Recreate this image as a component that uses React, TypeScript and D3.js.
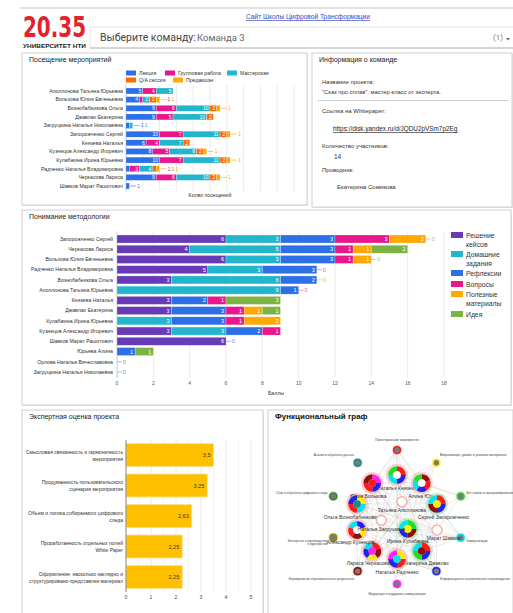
import React from 'react';
import * as d3 from 'd3';

const W = 513;
const H = 613;
const FONT = 'Liberation Sans, Arial, sans-serif';

// Посещение мероприятий
const attendNames = [
  'Аполлонова Татьяна Юрьевна', 'Вольхова Юлия Евгеньевна', 'Вознобабникова Ольга', 'Джавлах Екатерина',
  'Загруцкина Наталья Николаевна', 'Запорожченко Сергей', 'Князева Наталья', 'Кузнецов Александр Игоревич',
  'Кулабжина Ирина Юрьевна', 'Радченко Наталья Владимировна', 'Черкасова Лариса', 'Шавков Марат Рашитович',
];
const attendKinds = ['Лекция', 'Групповая работа', 'Мастерская', 'Q/A сессия', 'Предакшэн'];
const attendColors = ['#2d6fe6', '#e8178c', '#22b5cc', '#ff6a00', '#ffa800'];
const lectures = [5, 4, 9, 9, 1, 10, 6, 8, 10, 1, 9, 1];
const groupWork = [4, 1, 6, 5, 0, 7, 4, 5, 7, 3, 6, 0];
const workshops = [5, 2, 10, 10, 1, 11, 7, 8, 11, 4, 10, 0];
const qaSessions = [0, 2, 2, 2, 0, 2, 2, 2, 2, 1, 2, 0];
const production = [0, 1, 1, 0, 0, 1, 0, 1, 1, 1, 1, 0];

// Понимание методологии
const methNames = [
  'Запорожченко Сергей', 'Черкасова Лариса', 'Вольхова Юлия Евгеньевна', 'Радченко Наталья Владимировна',
  'Вознобабникова Ольга', 'Аполлонова Татьяна Юрьевна', 'Князева Наталья', 'Джавлах Екатерина',
  'Кулабжина Ирина Юрьевна', 'Кузнецов Александр Игоревич', 'Шавков Марат Рашитович', 'Юрьева Алина',
  'Орлова Наталья Вячеславовна', 'Загруцкина Наталья Николаевна',
];
const methKinds = ['Решение\nкейсов', 'Домашние\nзадания', 'Рефлексии', 'Вопросы', 'Полезные\nматериалы', 'Идея'];
const methColors = ['#673ab7', '#22b5cc', '#2d6fe6', '#e8178c', '#ffa800', '#7cb342'];
const caseSolving = [6, 4, 6, 5, 3, null, 3, 3, null, 3, 6, null, null, null];
const homework = [3, 5, 3, 3, 6, 9, 0, 0, 3, 3, null, 0, null, null];
const reflections = [3, 3, 3, 3, 2, 1, 2, 3, 3, 2, 0, 1, 0, 0];
const questions = [3, 1, 1, 0, null, 0, 1, 1, 1, 1, null, 0, null, null];
const materials = [2, 1, 1, null, null, null, null, 1, 2, null, null, null, null, null];
const ideas = [0, 2, 0, null, 0, null, 3, 1, null, null, null, 1, null, null];
const methTicks = [0, 2, 4, 6, 8, 10, 12, 14, 16, 18];

// Экспертная оценка проекта
const criteria = [
  'Смысловая связанность и гармоничность\nмероприятия',
  'Продуманность пользовательского\nсценария мероприятия',
  'Объем и логика собираемого цифрового\nследа',
  'Проработанность отдельных полей\nWhite Paper',
  'Оформление: насколько наглядно и\nструктурировано представлен материал',
];
const scores = [3.5, 3.25, 2.63, 2.25, 2.25];
const scoreTicks = [0, 1, 2, 3, 4, 5];

// Функциональный граф
const functionNames = [
  'Проектирование мероприятия', 'Визуализация, дизайн и упаковка материалов', 'Бот-сервис и программирование',
  'Коммуникации', 'Информационно-аналитическое сопровождение', 'Модерация и поддержка коммуникации',
  'Формирование образовательных результатов', 'Экспертное сопровождение\nи кураторство',
  'Сбор и обработка цифрового следа', 'Анализ и обработка данных',
];
const functionColors = ['#ff1a1a', '#ffee00', '#22dd22', '#00e5ee', '#2222ee', '#ff22ff', '#8b1010', '#8a8a10', '#228b22', '#178a8a'];
const ringPeople = [
  'Наталья Князева', 'Алина Юрьева', 'Сергей Запорожченко', 'Марат Шавков', 'Екатерина Джавлах',
  'Наталья Радченко', 'Лариса Черкасова', 'Александр Кузнецов', 'Ольга Вознобабникова', 'Юлия Волькова',
];
const innerPeople = ['Татьяна Аполлонова', 'Ирина Кулабжина', 'Наталья Загруцкина'];
const personRoles: Record<string, number[]> = {
  'Наталья Князева': [0, 4, 3, 2],
  'Алина Юрьева': [6, 0, 4, 3, 2],
  'Сергей Запорожченко': [0, 4, 6, 3],
  'Марат Шавков': [],
  'Екатерина Джавлах': [0, 4, 2, 3],
  'Наталья Радченко': [1, 0, 4, 5],
  'Лариса Черкасова': [0, 6, 1, 4, 3],
  'Александр Кузнецов': [4, 1, 6, 0, 3],
  'Ольга Вознобабникова': [1, 3, 0, 4],
  'Юлия Волькова': [5, 4, 0, 6],
  'Татьяна Аполлонова': [],
  'Ирина Кулабжина': [2, 6, 4, 3],
  'Наталья Загруцкина': [],
};
const personCore: Record<string, number> = {
  'Сергей Запорожченко': 1, 'Екатерина Джавлах': 6, 'Наталья Радченко': 3, 'Лариса Черкасова': 5,
  'Ольга Вознобабникова': 9, 'Юлия Волькова': 0, 'Ирина Кулабжина': 1,
};
const greenHalo = ['Сергей Запорожченко', 'Ирина Кулабжина', 'Екатерина Джавлах'];

function Panel({ x, y, w, h, title, bold }: { x: number; y: number; w: number; h: number; title: string; bold?: boolean }) {
  return (
    <g>
      <rect x={x + 1} y={y + 1} width={w} height={h} fill="#e6e6e6" />
      <rect x={x} y={y} width={w} height={h} fill="#fff" stroke="#cfcfcf" />
      <text x={x + 7} y={y + 9} fontSize={bold ? 8 : 7} fill={bold ? '#111' : '#222'} fontWeight={bold ? 'bold' : 'normal'}>
        {title}
      </text>
    </g>
  );
}

function Header() {
  return (
    <g>
      <line x1={20} x2={W} y1={8} y2={8} stroke="#e2e2e2" strokeWidth={2} />
      <text x={23} y={37} fontSize={29} fontWeight="bold" fill="#e42229" textLength={63} lengthAdjust="spacingAndGlyphs"
        fontFamily="DejaVu Sans Condensed, Liberation Sans Narrow, sans-serif">20.35</text>
      <text x={23} y={48} fontSize={5.6} fontWeight="bold" fill="#222" textLength={63} lengthAdjust="spacingAndGlyphs">УНИВЕРСИТЕТ НТИ</text>
      <text x={308} y={19} fontSize={6.6} fill="#3b44c8" textAnchor="middle" textDecoration="underline">Сайт Школы Цифровой Трансформации</text>
      <rect x={90} y={27} width={430} height={21} fill="#fff" stroke="#e4e4e4" />
      <line x1={90} x2={W} y1={48} y2={48} stroke="#bdbdbd" />
      <text x={100} y={41} fontSize={10.5} fill="#444" fontFamily="Roboto, sans-serif">Выберите команду:</text>
      <text x={197} y={41} fontSize={9.5} fill="#666" fontFamily="Roboto, sans-serif">Команда 3</text>
      <text x={493} y={40} fontSize={8} fill="#777" fontFamily="Roboto, sans-serif">(1)</text>
      <path d="M506,38 l4,0 l-2,2.5 z" fill="#666" />
    </g>
  );
}

function AttendChart() {
  const x = d3.scaleLinear().domain([0, 50]).range([126, 294]);
  const y = d3.scalePoint<string>().domain(attendNames).range([91, 186]);
  const cols = [lectures, groupWork, workshops, qaSessions, production];
  const rows = attendNames.map((n, i) => {
    const r: any = { name: n };
    cols.forEach((c, k) => (r['s' + k] = c[i]));
    return r;
  });
  const stacked = d3.stack<any>().keys(cols.map((_, k) => 's' + k))(rows);
  const bh = 6;
  return (
    <g fontSize={5.2}>
      {x.ticks(10).map((t) => (
        <line key={t} x1={x(t)} x2={x(t)} y1={85} y2={191} stroke={t === 0 ? '#bbb' : '#e6e6e6'} strokeWidth={0.8} />
      ))}
      {attendNames.map((n) => (
        <text key={n} x={123} y={(y(n) as number) + 1.8} textAnchor="end" fill="#333">{n}</text>
      ))}
      {stacked.map((layer, k) =>
        layer.map((d, i) => {
          const v = d[1] - d[0];
          if (v <= 0) return null;
          const cy = y(attendNames[i]) as number;
          const w = x(d[1]) - x(d[0]);
          return (
            <g key={k + '-' + i}>
              <rect x={x(d[0])} y={cy - bh / 2} width={w} height={bh} fill={attendColors[k]} stroke="#fff" strokeOpacity={0.6} strokeWidth={0.4} />
              {w >= 6 && (
                <text x={x(d[1]) - 1.5} y={cy + 1.8} textAnchor="end" fill="#fff" fontSize={5}>{v}</text>
              )}
            </g>
          );
        })
      )}
      {attendNames.map((n, i) => {
        const narrow = cols.map((c, k) => ({ v: c[i], k })).filter((s) => s.v > 0 && x(s.v) - x(0) < 6);
        if (!narrow.length) return null;
        const total = d3.sum(cols, (c) => c[i]);
        const x0 = x(total) + 1;
        const cy = y(n) as number;
        return (
          <g key={'o' + n}>
            <line x1={x0} x2={x0 + 6} y1={cy} y2={cy} stroke={attendColors[narrow[narrow.length - 1].k]} strokeWidth={0.6} />
            {narrow.map((s, j) => (
              <text key={j} x={x0 + 7 + j * 4} y={cy + 1.8} fill={attendColors[s.k]} fontSize={5}>{s.v}</text>
            ))}
          </g>
        );
      })}
      {attendKinds.map((k, i) => {
        const lx = [126, 165, 227, 126, 173][i];
        const ly = i < 3 ? 73 : 80;
        return (
          <g key={k}>
            <rect x={lx} y={ly - 2.5} width={10} height={5} fill={attendColors[i]} />
            <text x={lx + 13} y={ly + 1.8} fill="#333" fontSize={5.2}>{k}</text>
          </g>
        );
      })}
      <text x={210} y={197} textAnchor="middle" fill="#333" fontSize={5.2}>Колво посещений</text>
    </g>
  );
}

function InfoPanel() {
  return (
    <g fontSize={6} fill="#333">
      <text x={322} y={84}>Название проекта:</text>
      <text x={322} y={94} fontSize={5.8}>"Сказ про сплав": мастер-класс от эксперта.</text>
      <line x1={318} x2={508} y1={100.5} y2={100.5} stroke="#cfcfcf" />
      <text x={322} y={113}>Ссылка на Whitepaper:</text>
      <text x={333} y={131} fontSize={6.4} textDecoration="underline" fill="#222">https://disk.yandex.ru/d/JQDU2pVSm7p2Eg</text>
      <text x={322} y={148}>Количество участников:</text>
      <text x={334} y={159} fontSize={6.5}>14</text>
      <text x={322} y={172}>Проводник:</text>
      <text x={337} y={189}>Екатерина Сомикова</text>
    </g>
  );
}

function MethChart() {
  const x = d3.scaleLinear().domain([0, 18]).range([117, 444]);
  const y = d3.scalePoint<string>().domain(methNames).range([239, 372]);
  const cols = [caseSolving, homework, reflections, questions, materials, ideas];
  const bh = 8;
  const rowsOut: React.ReactNode[] = [];
  methNames.forEach((n, i) => {
    const cy = y(n) as number;
    let acc = 0;
    cols.forEach((c, k) => {
      const v = c[i];
      if (v === null) return;
      if (v === 0) {
        const x0 = x(acc);
        rowsOut.push(
          <g key={'z' + i + k} opacity={0.75}>
            <line x1={x0} x2={x0 + 5} y1={cy} y2={cy} stroke={methColors[k]} strokeWidth={0.6} />
            <text x={x0 + 5.8} y={cy + 2} fill={methColors[k]} fontSize={5.6}>0</text>
          </g>
        );
        return;
      }
      const x0 = x(acc);
      const x1 = x(acc + v);
      acc += v;
      rowsOut.push(
        <g key={'b' + i + k}>
          <rect x={x0} y={cy - bh / 2} width={x1 - x0} height={bh} fill={methColors[k]} stroke="#fff" strokeOpacity={0.5} strokeWidth={0.5} />
          <text x={x1 - 2} y={cy + 2} textAnchor="end" fill="#fff" fontSize={5.6}>{v}</text>
        </g>
      );
    });
  });
  return (
    <g fontSize={5.2}>
      {methTicks.map((t) => (
        <g key={t}>
          <line x1={x(t)} x2={x(t)} y1={232} y2={378} stroke={t === 0 ? '#bbb' : '#e6e6e6'} strokeWidth={0.8} />
          <text x={x(t)} y={385} textAnchor="middle" fill="#555" fontSize={5}>{t}</text>
        </g>
      ))}
      {methNames.map((n) => (
        <text key={n} x={113} y={(y(n) as number) + 1.8} textAnchor="end" fill="#333">{n}</text>
      ))}
      {rowsOut}
      <text x={276} y={395} textAnchor="middle" fill="#333" fontSize={5.2}>Баллы</text>
      {methKinds.map((k, i) => {
        const ly = [236, 255, 274, 285, 295, 315][i];
        return (
          <g key={k}>
            <rect x={451} y={ly - 4} width={12} height={6} fill={methColors[i]} />
            {k.split('\n').map((line, j) => (
              <text key={j} x={466} y={ly + 1.5 + j * 9} fontSize={6.8} fill="#333">{line}</text>
            ))}
          </g>
        );
      })}
    </g>
  );
}

function ScoreChart() {
  const x = d3.scaleLinear().domain([0, 5]).range([126, 251]);
  const y = d3.scalePoint<string>().domain(criteria).range([455, 577]);
  const bh = 23;
  return (
    <g fontSize={5}>
      {d3.range(0, 5.01, 0.5).map((t) => (
        <line key={t} x1={x(t)} x2={x(t)} y1={440} y2={592} stroke={Number.isInteger(t) ? '#e2e2e2' : '#f0f0f0'} strokeWidth={0.8} />
      ))}
      {criteria.map((c, i) => {
        const cy = y(c) as number;
        return (
          <g key={c}>
            <rect x={x(0)} y={cy - bh / 2} width={x(scores[i]) - x(0)} height={bh} fill="#ffc000" stroke="#ffe08a" strokeWidth={0.8} />
            <text x={x(scores[i]) - 3} y={cy + 2} textAnchor="end" fill="#333" fontSize={5.5}>
              {String(scores[i]).replace('.', ',')}
            </text>
            {c.split('\n').map((line, j, arr) => (
              <text key={j} x={123} y={cy + 2 + (j - (arr.length - 1) / 2) * 7} textAnchor="end" fill="#333">{line}</text>
            ))}
          </g>
        );
      })}
      <line x1={x(0)} x2={x(0)} y1={440} y2={592} stroke="#777" strokeWidth={0.8} />
      {scoreTicks.map((t) => (
        <text key={t} x={x(t)} y={599} textAnchor="middle" fill="#444" fontSize={5}>{t}</text>
      ))}
    </g>
  );
}

function GraphChart() {
  const cx = 397;
  const cy = 517;
  const ang = d3.scaleLinear().domain([0, 10]).range([-Math.PI / 2, (3 * Math.PI) / 2]);
  const innerAng = d3.scaleLinear().domain([0, 3]).range([(-72 * Math.PI) / 180, (288 * Math.PI) / 180]);
  const fn = functionNames.map((name, i) => ({
    name, i, a: ang(i), x: cx + 67 * Math.cos(ang(i)), y: cy + 67 * Math.sin(ang(i)),
  }));
  const people = [
    ...ringPeople.map((name, i) => ({
      name, x: cx + 42 * Math.cos(ang(i)), y: cy + 42 * Math.sin(ang(i)), dx: 7 * Math.cos(ang(i)),
    })),
    ...innerPeople.map((name, i) => ({
      name, x: cx + 16 * Math.cos(innerAng(i)), y: cy + 16 * Math.sin(innerAng(i)), dx: 0,
    })),
  ];
  const pie = d3.pie<number>().value(1).sort(null);
  const arc = d3.arc<d3.PieArcDatum<number>>().innerRadius(3.8).outerRadius(8.8);
  const edges: React.ReactNode[] = [];
  people.forEach((p, i) => {
    personRoles[p.name].forEach((f) => {
      edges.push(<line key={'pf' + i + '-' + f} x1={p.x} y1={p.y} x2={fn[f].x} y2={fn[f].y} stroke="#cfcfcf" strokeWidth={0.45} />);
    });
    people.forEach((q, j) => {
      if (j > i) edges.push(<line key={'pp' + i + '-' + j} x1={p.x} y1={p.y} x2={q.x} y2={q.y} stroke="#d8d8d8" strokeWidth={0.35} />);
    });
  });
  return (
    <g>
      {edges}
      {fn.map((f) => {
        const c = Math.cos(f.a);
        const s = Math.sin(f.a);
        const anchor = Math.abs(c) < 0.2 ? 'middle' : c > 0 ? 'start' : 'end';
        const lx = f.x + c * 6;
        const ly = f.y + s * 10 + 1;
        return (
          <g key={f.name}>
            <circle cx={f.x} cy={f.y} r={5} fill={functionColors[f.i]} opacity={0.25} />
            <circle cx={f.x} cy={f.y} r={3.4} fill="#7a7a7a" stroke={functionColors[f.i]} strokeWidth={1.4} />
            {f.name.split('\n').map((line, j) => (
              <text key={j} x={lx} y={ly + j * 3.6} fontSize={3.1} fill="#444" textAnchor={anchor}>{line}</text>
            ))}
          </g>
        );
      })}
      {people.map((p) => {
        const roles = personRoles[p.name];
        const halo = greenHalo.includes(p.name) ? '#9bd89b' : '#f4a6a6';
        const core = personCore[p.name];
        if (!roles.length) {
          return (
            <g key={p.name}>
              <circle cx={p.x} cy={p.y} r={5} fill="#fff" stroke="#f2b4b4" strokeWidth={1.6} />
              <text x={p.x + p.dx} y={p.y + 10.5} fontSize={5} fill="#333" textAnchor="middle">{p.name}</text>
            </g>
          );
        }
        return (
          <g key={p.name}>
            <circle cx={p.x} cy={p.y} r={11} fill={halo} opacity={0.55} />
            <g transform={`translate(${p.x},${p.y})`}>
              {pie(roles).map((s, j) => (
                <path key={j} d={arc(s) as string} fill={functionColors[s.data]} />
              ))}
              <circle r={3.8} fill={core === undefined ? '#fff' : functionColors[core]} />
            </g>
            <text x={p.x + p.dx} y={p.y + 14.5} fontSize={5} fill="#333" textAnchor="middle">{p.name}</text>
          </g>
        );
      })}
    </g>
  );
}

export default function App() {
  return (
    <svg width={W} height={H} style={{ position: 'absolute', left: 0, top: 0, fontFamily: FONT }}>
      <rect width={W} height={H} fill="#fff" />
      <Header />
      <Panel x={22} y={53} w={285} h={152} title="Посещение мероприятий" />
      <AttendChart />
      <Panel x={312} y={53} w={200} h={154} title="Информация о команде" />
      <InfoPanel />
      <Panel x={22} y={210} w={489} h={195} title="Понимание методологии" />
      <MethChart />
      <Panel x={22} y={410} w={241} h={210} title="Экспертная оценка проекта" />
      <ScoreChart />
      <Panel x={268} y={410} w={245} h={210} title="Функциональный граф" bold />
      <GraphChart />
    </svg>
  );
}
